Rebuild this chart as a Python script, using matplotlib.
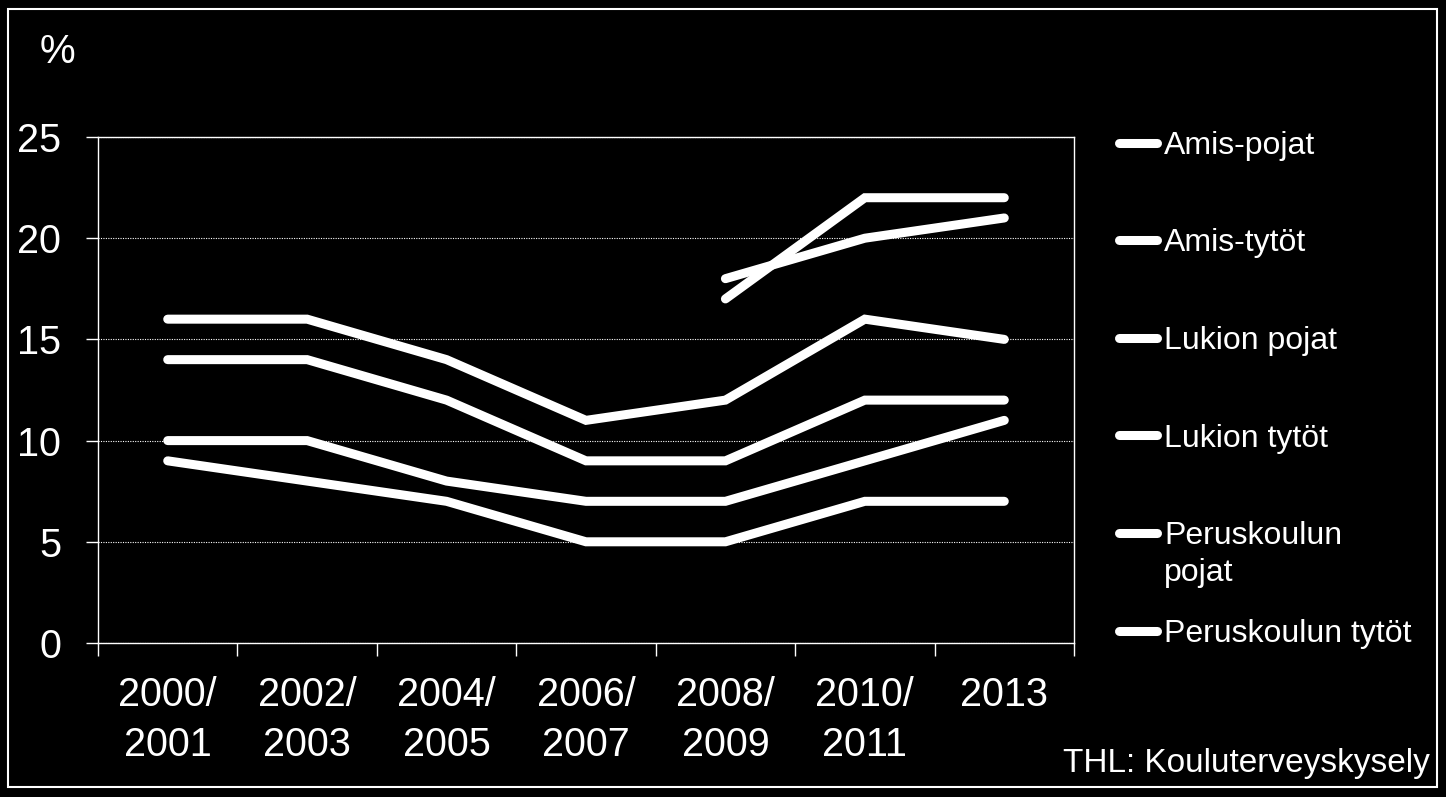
import matplotlib
matplotlib.use("Agg")
import matplotlib.pyplot as plt
import numpy as np
from matplotlib.lines import Line2D
from matplotlib.patches import Rectangle

plt.rcParams["font.family"] = ["Liberation Sans", "DejaVu Sans"]

# Data
years = ["2000/\n2001", "2002/\n2003", "2004/\n2005", "2006/\n2007",
         "2008/\n2009", "2010/\n2011", "2013"]
names = ["Amis-pojat", "Amis-tytöt", "Lukion pojat", "Lukion tytöt",
         "Peruskoulun\npojat", "Peruskoulun tytöt"]
nan = np.nan
amis_pojat = [nan, nan, nan, nan, 17, 22, 22]
amis_tytot = [nan, nan, nan, nan, 18, 20, 21]
lukion_pojat = [10, 10, 8, 7, 7, 9, 11]
lukion_tytot = [9, 8, 7, 5, 5, 7, 7]
perus_pojat = [16, 16, 14, 11, 12, 16, 15]
perus_tytot = [14, 14, 12, 9, 9, 12, 12]
series = [amis_pojat, amis_tytot, lukion_pojat, lukion_tytot, perus_pojat, perus_tytot]

W, H = 1446, 797
fig = plt.figure(figsize=(W / 100, H / 100), dpi=100, facecolor="black")
ax = fig.add_axes([98 / W, 1 - 643 / H, (1074 - 98) / W, (643 - 137) / H])
ax.set_facecolor("black")

x = np.arange(len(years))
for vals in series:
    ax.plot(x, vals, color="white", lw=6.5, solid_capstyle="round",
            solid_joinstyle="miter", zorder=3)

ax.set_xlim(-0.5, len(years) - 0.5)
ax.set_ylim(0, 25)
ax.set_yticks([0, 5, 10, 15, 20, 25])

# category boundaries as ticks, labels on the centres
ax.set_xticks(np.arange(-0.5, len(years), 1))
ax.set_xticks(x, minor=True)
ax.set_xticklabels(years, minor=True)
ax.tick_params(axis="x", which="major", length=9.5, width=1, color="white",
               labelbottom=False)
ax.tick_params(axis="x", which="minor", length=0, pad=24, labelsize=28.5,
               labelcolor="white")
ax.tick_params(axis="y", length=8.6, width=1, color="white", labelsize=28.5,
               labelcolor="white", pad=18)
for lbl in ax.get_xticklabels(minor=True):
    lbl.set_linespacing(1.4)

ax.yaxis.grid(True, linestyle=(0, (1, 1.2)), color="white", lw=0.8)
for s in ax.spines.values():
    s.set_color("white")
    s.set_linewidth(1)

fig.text(57 / W, 1 - 52 / H, "%", ha="center", va="center", fontsize=29,
         color="white")
fig.text(1430 / W, 1 - 772 / H, "THL: Kouluterveyskysely", ha="right",
         va="baseline", fontsize=24, color="white")

# legend drawn by hand
for i, name in enumerate(names):
    yc = 142.5 + 97.6 * i
    fig.add_artist(Line2D([1118.5 / W, 1157 / W], [1 - yc / H] * 2,
                          transform=fig.transFigure, color="white", lw=6.5,
                          solid_capstyle="round"))
    fig.text(1164 / W, 1 - (yc - 11.8) / H, name, ha="left", va="top",
             fontsize=23, color="white", linespacing=1.3)

fig.add_artist(Rectangle((8 / W, 1 - 787 / H), (1437 - 8) / W, (787 - 9) / H,
                         transform=fig.transFigure, fill=False, ec="white",
                         lw=1.5))

fig.savefig("out.png", dpi=100, facecolor="black")
